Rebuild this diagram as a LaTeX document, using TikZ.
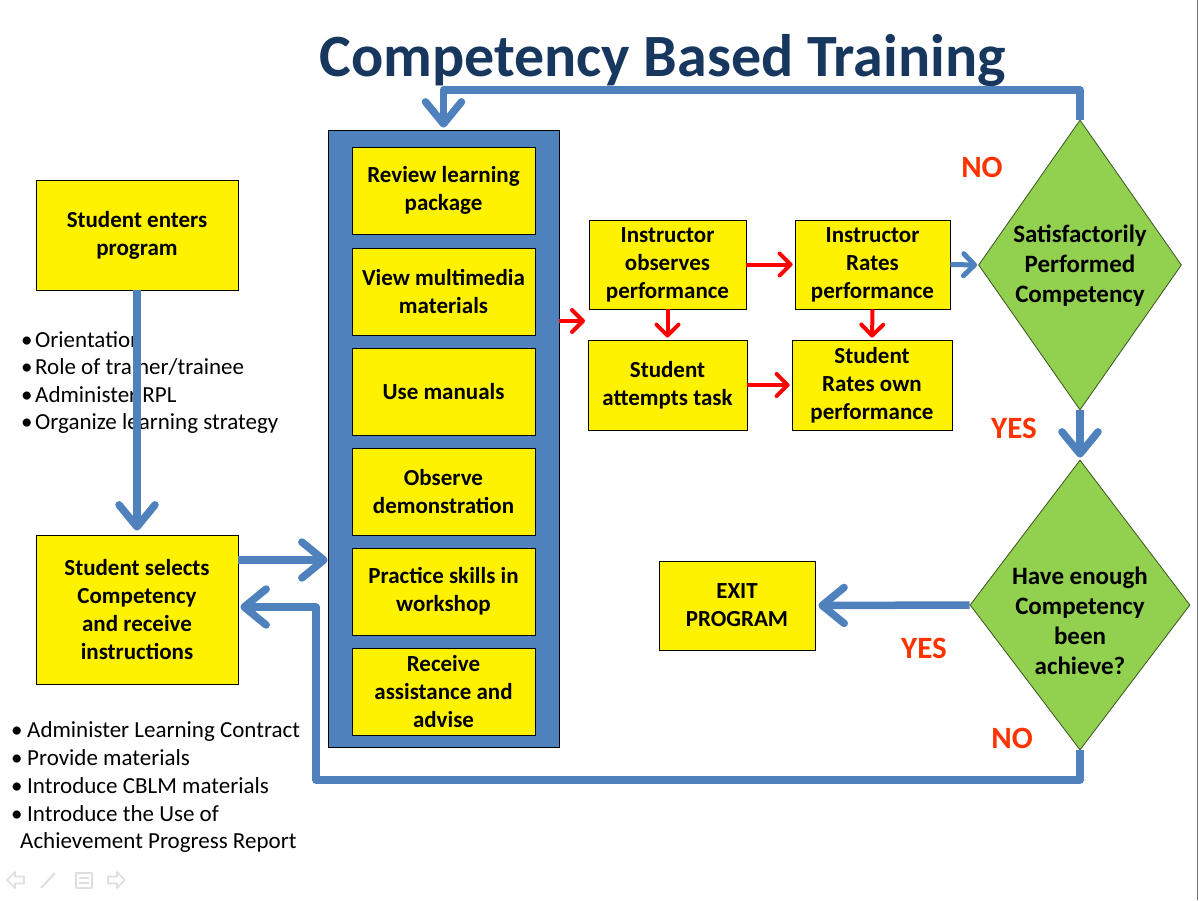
\documentclass[tikz,border=0pt]{standalone}
\usepackage{fontspec}
\setmainfont{Carlito}
\usetikzlibrary{arrows.meta,shapes.geometric}
\definecolor{cbblue}{RGB}{79,129,189}
\definecolor{cbtitle}{RGB}{23,55,94}
\definecolor{cbgreen}{RGB}{146,208,80}
\definecolor{cbred}{RGB}{255,51,0}
\definecolor{cbnav}{RGB}{222,222,222}
\begin{document}
\begin{tikzpicture}[x=1pt,y=-1pt,
  ybox/.style={draw=black, line width=0.8pt, fill=yellow, align=center, inner sep=0pt, font=\fontsize{23}{28}\selectfont\bfseries},
  dia/.style={diamond, draw=black!60!cbgreen, line width=0.8pt, fill=cbgreen, inner sep=0pt},
  dtext/.style={align=center, inner sep=0pt, font=\fontsize{25}{30}\selectfont\bfseries},
  bul/.style={anchor=base west, inner sep=0pt, font=\fontsize{23}{28}\selectfont},
  lbl/.style={text=cbred, inner sep=0pt, font=\fontsize{31}{36}\selectfont\bfseries},
  bigarrow/.style={draw=cbblue, line width=7.5pt, line join=round, -{Straight Barb[length=22pt,width=36pt,round]}},
  redarrow/.style={draw=red, line width=4pt, -{Straight Barb[length=11pt,width=22pt,round]}},
  smallblue/.style={draw=cbblue, line width=5pt, -{Straight Barb[length=11pt,width=22pt,round]}},
  navicon/.style={draw=cbnav, line width=1.6pt, line join=round}
]
\useasboundingbox (0,0) rectangle (1199,900);
\fill[white] (0,0) rectangle (1199,900);

% title
\node[anchor=base, inner sep=0pt, text=cbtitle, font=\fontsize{60}{66}\selectfont\bfseries] (title) at (662.5,76) {Competency Based Training};

% bullet lists
\node[bul] (b1a) at (21,347) {•};
\node[bul] (b1at) at (35,347) {Orientation};
\node[bul] (b1b) at (21,374.5) {•};
\node[bul] (b1bt) at (35,374.5) {Role of trainer/trainee};
\node[bul] (b1c) at (21,402) {•};
\node[bul] (b1ct) at (35,402) {Administer RPL};
\node[bul] (b1d) at (21,429.5) {•};
\node[bul] (b1dt) at (35,429.5) {Organize learning strategy};

\node[bul] (b2a) at (11,737) {•};
\node[bul] (b2at) at (27,737) {Administer Learning Contract};
\node[bul] (b2b) at (11,765) {•};
\node[bul] (b2bt) at (27,765) {Provide materials};
\node[bul] (b2c) at (11,793) {•};
\node[bul] (b2ct) at (27,793) {Introduce CBLM materials};
\node[bul] (b2d) at (11,821) {•};
\node[bul] (b2dt) at (27,821) {Introduce the Use of};
\node[bul] (b2e) at (20,848) {Achievement Progress Report};

% left boxes
\node[ybox, minimum width=202pt, minimum height=110pt] (enter) at (137,235) {Student enters\\program};
\node[ybox, minimum width=202pt, minimum height=149pt] (select) at (137,609.5) {Student selects\\Competency\\and receive\\instructions};

% blue panel
\node[draw=black, line width=0.8pt, fill=cbblue, minimum width=231pt, minimum height=617pt, inner sep=0pt] (panel) at (443.5,438.5) {};
\node[ybox, minimum width=183pt, minimum height=87pt] (p1) at (443.5,190.5) {Review learning\\package};
\node[ybox, minimum width=183pt, minimum height=87pt] (p2) at (443.5,291.5) {View multimedia\\materials};
\node[ybox, minimum width=183pt, minimum height=87pt] (p3) at (443.5,391.5) {Use manuals};
\node[ybox, minimum width=183pt, minimum height=87pt] (p4) at (443.5,491.5) {Observe\\demonstration};
\node[ybox, minimum width=183pt, minimum height=87pt] (p5) at (443.5,591.5) {Practice skills in\\workshop};
\node[ybox, minimum width=183pt, minimum height=87pt] (p6) at (443.5,691.5) {Receive\\assistance and\\advise};

% right boxes
\node[ybox, minimum width=157pt, minimum height=89pt] (obs) at (667.5,264.5) {Instructor\\observes\\performance};
\node[ybox, minimum width=155pt, minimum height=89pt] (rates) at (872.5,264.5) {Instructor\\Rates\\performance};
\node[ybox, minimum width=159pt, minimum height=90pt] (attempts) at (667.5,385) {Student\\attempts task};
\node[ybox, minimum width=160pt, minimum height=90pt] (own) at (872,385) {Student\\Rates own\\performance};
\node[ybox, minimum width=156pt, minimum height=89pt] (exit) at (737,605.5) {EXIT\\PROGRAM};

% diamonds
\node[dia, minimum width=203pt, minimum height=290pt] (d1) at (1080,265) {};
\node[dtext] (d1t) at (1080,266) {Satisfactorily\\Performed\\Competency};
\node[dia, minimum width=220pt, minimum height=290pt] (d2) at (1080,605) {};
\node[dtext] (d2t) at (1080,621) {Have enough\\Competency\\been\\achieve?};

% labels
\node[lbl] (no1) at (982,167) {NO};
\node[lbl] (yes1) at (1014,428) {YES};
\node[lbl] (yes2) at (924,648) {YES};
\node[lbl] (no2) at (1012,738) {NO};

% helper coordinates
\coordinate (y560) at (0,560);
\coordinate (y607) at (0,607);
\coordinate (y90) at (0,90);
\coordinate (y321) at (0,321);
\coordinate (r1) at (316,780);
\coordinate (ra) at (585,321);

% blue connectors
\draw[bigarrow, shorten >=4pt] (enter.south) -- (select.north);
\draw[bigarrow] (select.east |- y560) -- (panel.west |- y560);
\draw[bigarrow, shorten >=2pt] (d2.south) |- (r1) |- (select.east |- y607);
\draw[bigarrow, shorten >=2pt] (d1.north) |- (panel.north |- y90) -- (panel.north);
\draw[bigarrow, shorten >=2pt] (d1.south) -- (d2.north);
\draw[bigarrow, shorten >=3pt] (d2.west) -- (exit.east);
\draw[smallblue, shorten >=1pt] (rates.east) -- (d1.west);

% red connectors
\draw[redarrow] (panel.east |- y321) -- (ra);
\draw[redarrow, shorten >=2pt] (obs.east) -- (rates.west);
\draw[redarrow, shorten >=2pt] (obs.south) -- (attempts.north);
\draw[redarrow, shorten >=2pt] (rates.south) -- (own.north);
\draw[redarrow, shorten >=2pt] (attempts.east) -- (own.west);

% faint slide navigation icons
\draw[navicon] (7,880) -- (15,872) -- (15,876.5) -- (24,876.5) -- (24,883.5) -- (15,883.5) -- (15,888) -- cycle;
\draw[navicon, line width=2pt] (41,888) -- (55,873);
\draw[navicon] (76,873) rectangle (92,888);
\draw[navicon] (79,878) -- (89,878) (79,883) -- (89,883);
\draw[navicon] (125,880) -- (117,872) -- (117,876.5) -- (108,876.5) -- (108,883.5) -- (117,883.5) -- (117,888) -- cycle;

% right edge line
\draw[black!55, line width=1.5pt] (1197.5,0) -- (1197.5,900);
\end{tikzpicture}
\end{document}
